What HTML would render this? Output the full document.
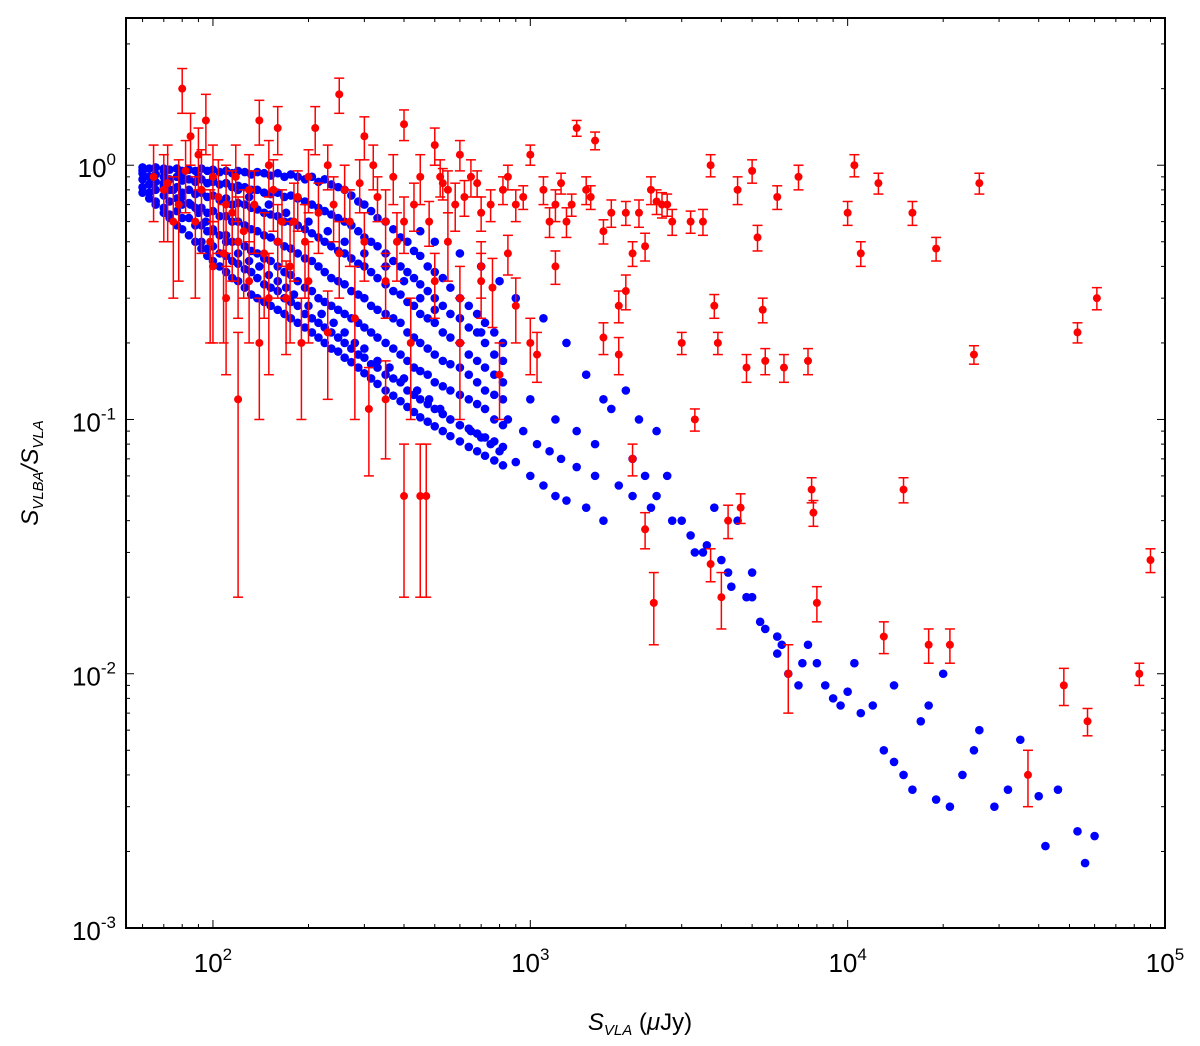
<!DOCTYPE html>
<html><head><meta charset="utf-8"><style>
body{margin:0;background:#fff;}
svg text{font-family:"Liberation Sans",sans-serif;}
</style></head><body>
<svg id="chart" width="1200" height="1041" xmlns="http://www.w3.org/2000/svg">
<g id="marks"></g>
<g id="axes"></g>
<text x="640" y="1030" text-anchor="middle" font-size="24" font-family="Liberation Serif"><tspan font-style="italic">S</tspan><tspan font-style="italic" font-size="15" dy="5">VLA</tspan><tspan dy="-5"> (</tspan><tspan font-style="italic">μ</tspan><tspan>Jy)</tspan></text>
<text transform="translate(38,473) rotate(-90)" text-anchor="middle" font-size="24" font-family="Liberation Serif" font-style="italic">S<tspan font-size="15" dy="5">VLBA</tspan><tspan dy="-5">/S</tspan><tspan font-size="15" dy="5">VLA</tspan></text>
</svg>
<script>
const blueX=[60,65,70,75,80,85,90,95,100,110,120,130,140,150,160,170,180,200,220,240,260,280,300,330,360,400,440,480,520,560,600,650,700,750,800,900,1000,1100,1200,1300,1500,1700,
70,80,90,100,110,120,130,150,170,200,230,260,300,350,400,450,500,600,700,
1000,1200,1400,1600,1800,2000,2100,2300,2500,2700,3000,3200,3500,4000,4200,4500,5000,5500,6000,6500,7000,7500,8000,9000,10000,10500,11000,12000,13000,14000,15000,16000,17000,18000,19000,21000,23000,25000,26000,29000,32000,35000,42000,46000,53000,56000,60000,40000,20000,14000,9500,6000,5000,3800,2500,2200,1700,1500,1300,1100,900,800,700,600,500,450,
850,950,1050,1150,1250,1400,1600,1900,2100,2400,2800,3300,3600,4300,4800,5300,6200,7200,8500];
const blueY=[0.95,0.9,0.85,0.8,0.75,0.7,0.65,0.6,0.55,0.5,0.45,0.42,0.4,0.37,0.35,0.33,0.31,0.28,0.26,0.24,0.22,0.2,0.19,0.17,0.16,0.145,0.13,0.12,0.11,0.1,0.095,0.09,0.085,0.08,0.075,0.068,0.06,0.055,0.05,0.048,0.045,0.04,
0.95,0.92,0.9,0.88,0.85,0.8,0.75,0.7,0.65,0.6,0.55,0.5,0.45,0.4,0.35,0.3,0.27,0.25,0.22,
0.12,0.1,0.09,0.08,0.11,0.13,0.07,0.06,0.05,0.06,0.04,0.035,0.03,0.028,0.025,0.04,0.02,0.015,0.012,0.01,0.009,0.013,0.011,0.008,0.0085,0.011,0.007,0.0075,0.005,0.0045,0.004,0.0035,0.0065,0.0075,0.0032,0.003,0.004,0.005,0.006,0.003,0.0035,0.0055,0.0021,0.0035,0.0024,0.0018,0.0023,0.0033,0.01,0.009,0.0075,0.014,0.025,0.045,0.09,0.1,0.12,0.15,0.2,0.25,0.3,0.35,0.4,0.45,0.5,0.55,
0.1,0.09,0.08,0.075,0.07,0.065,0.06,0.055,0.05,0.045,0.04,0.03,0.032,0.022,0.02,0.016,0.013,0.011,0.009];
// dense wedge: one x per column with several ratios
const blueColX=[60,63,66,70,73,77,80,84,88,92,96,100,105,110,115,120,126,132,138,145,152,160,168,176,185,195,205,215,225,236,248,260,273,287,300,315,330,350,370,390,410,430,450,475,500,530,560,600,640,680,720,770,820];
const blueColY=[[.98,.93,.88,.82,.78],[.97,.9,.84,.78,.74],[.98,.92,.86,.8,.72,.7],[.97,.9,.83,.76,.68,.65],[.96,.88,.8,.72,.64,.62],[.97,.9,.82,.74,.66,.58],[.95,.87,.78,.7,.62,.56],[.96,.88,.8,.71,.62,.53],[.95,.86,.77,.68,.58,.5],[.97,.88,.78,.68,.58,.5,.47],[.95,.85,.75,.65,.55,.47,.44],[.96,.86,.76,.66,.56,.48,.42],[.94,.84,.73,.63,.53,.45,.4],[.95,.85,.74,.63,.53,.44,.38],[.93,.82,.7,.6,.5,.42,.36],[.95,.83,.71,.6,.5,.41,.35],[.94,.82,.7,.58,.48,.39,.33],[.92,.8,.68,.56,.46,.38,.31],[.94,.8,.67,.55,.45,.36,.3],[.93,.78,.65,.53,.43,.34,.29],[.91,.77,.64,.52,.42,.33,.28],[.93,.78,.63,.5,.4,.32,.27],[.9,.75,.6,.48,.38,.3,.26],[.92,.76,.6,.47,.37,.29,.25],[.9,.74,.58,.45,.35,.28,.24],[.88,.72,.56,.43,.33,.26,.23],[.9,.7,.54,.42,.32,.25,.22],[.86,.68,.52,.4,.3,.24,.21],[.88,.66,.5,.38,.29,.23,.2],[.84,.64,.48,.36,.28,.22,.19],[.82,.62,.46,.35,.27,.21,.185],[.8,.6,.45,.34,.26,.2,.175],[.76,.58,.43,.32,.25,.19,.168],[.72,.55,.41,.31,.24,.18,.16],[.7,.52,.4,.3,.23,.175,.152],[.66,.5,.38,.28,.22,.165,.145],[.62,.48,.36,.27,.21,.16,.138],[.6,.45,.34,.26,.2,.15,.13],[.56,.42,.32,.25,.19,.145,.124],[.52,.4,.31,.24,.18,.14,.118],[.5,.38,.29,.22,.17,.13,.112],[.46,.36,.28,.21,.16,.125,.107],[.44,.34,.26,.2,.155,.12,.102],[.4,.32,.25,.19,.15,.115,.098],[.38,.3,.24,.18,.14,.11,.094],[.36,.28,.22,.17,.135,.105,.09],[.33,.26,.21,.165,.13,.1,.086],[.3,.25,.2,.16,.125,.095,.082],[.28,.23,.18,.15,.12,.092,.078],[.26,.22,.17,.14,.115,.088,.075],[.24,.2,.16,.13,.11,.085,.072],[.22,.18,.15,.125,.1,.082,.069],[.2,.17,.14,.12,.095,.078,.066]];
const redX=[80,85,90,95,100,110,120,130,140,150,160,180,190,200,210,230,250,260,280,300,310,320,350,370,400,420,450,470,500,520,550,580,600,650,700,760,800,850,900,1000,1050,1100,1200,1300,1400,1500,1600,1700,1800,1900,2000,2100,2200,2300,2400,2450,2500,2600,2800,3000,3300,3500,3700,3800,3900,4000,4500,4800,5000,5200,5400,5500,6000,6300,6500,7000,7500,7700,7800,8000,10000,10500,11000,12500,13000,15000,16000,18000,19000,21000,25000,26000,37000,48000,53000,57000,61000,83000,90000,3700,4200,4600,2300,1000,900,
70,75,100,110,130,150,160,200,250,300,350,400,450,550,120,140,170,230,350,400,600,700,
65,72,78,82,88,92,98,104,108,115,118,125,135,145,155,165,175,185,195,215,240,270,290,330,380,430,480,530,620,680,750,820,950,1150,1250,1350,1550,1700,2000,2700,3200,2100,1900,1200,850,700,600,500];
const redY=[2.0,1.3,1.1,1.5,0.9,0.7,0.5,0.8,1.5,1.0,1.4,0.6,0.2,0.9,1.4,1.0,1.9,0.8,0.25,1.3,0.11,1.0,0.6,0.9,1.45,0.2,0.05,0.05,1.2,0.9,0.8,0.7,1.1,0.9,0.65,0.33,0.15,0.9,0.7,1.1,0.18,0.8,0.7,0.6,1.4,0.8,1.25,0.21,0.65,0.18,0.32,0.07,0.65,0.48,0.8,0.019,0.72,0.7,0.6,0.2,0.1,0.6,1.0,0.28,0.2,0.02,0.8,0.16,0.95,0.52,0.27,0.17,0.75,0.16,0.01,0.9,0.17,0.053,0.043,0.019,0.65,1.0,0.45,0.85,0.014,0.053,0.65,0.013,0.47,0.013,0.18,0.85,0.004,0.009,0.22,0.0065,0.3,0.01,0.028,0.027,0.04,0.045,0.037,0.2,0.28,
0.8,0.6,0.4,0.3,0.35,0.3,0.5,0.35,0.45,0.5,0.35,0.6,0.9,0.5,0.12,0.2,0.3,0.22,0.12,0.05,0.3,0.4,
.9,.85,.7,.95,.6,.8,.5,.75,.45,.65,.9,.55,.7,.45,.8,.6,.4,.75,.5,.65,.7,.6,.85,.75,.5,.7,.6,.85,.75,.85,.7,.8,.75,.6,.85,.7,.75,.55,.65,.7,.6,.45,.28,.4,.45,.35,.2,.35];
const redErr=[0.4,0.3,0.3,0.4,0.3,0.3,0.25,0.3,0.3,0.25,0.3,0.25,0.1,0.25,0.3,0.2,0.3,0.2,0.15,0.25,0.05,0.2,0.2,0.2,0.2,0.1,0.03,0.03,0.2,0.15,0.15,0.15,0.15,0.15,0.1,0.1,0.05,0.1,0.1,0.1,0.04,0.1,0.1,0.08,0.1,0.1,0.1,0.03,0.08,0.03,0.05,0.01,0.08,0.06,0.1,0.006,0.08,0.08,0.07,0.02,0.01,0.07,0.1,0.03,0.02,0.005,0.1,0.02,0.1,0.06,0.03,0.02,0.08,0.02,0.003,0.1,0.02,0.006,0.005,0.003,0.07,0.1,0.05,0.08,0.002,0.006,0.07,0.002,0.05,0.002,0.015,0.08,0.001,0.0015,0.02,0.0008,0.03,0.001,0.003,0.004,0.006,0.006,0.006,0.05,0.08,
0.3,0.3,0.2,0.15,0.15,0.15,0.2,0.15,0.15,0.15,0.1,0.15,0.2,0.15,0.1,0.1,0.12,0.1,0.05,0.03,0.1,0.1,
.3,.35,.35,.3,.3,.35,.3,.3,.25,.3,.3,.25,.25,.2,.25,.2,.2,.2,.2,.2,.2,.2,.2,.15,.15,.15,.12,.12,.12,.1,.1,.1,.08,.08,.08,.07,.08,.06,.07,.07,.06,.05,.04,.06,.08,.1,.1,.1];
const xTicks=[2,3,4,5], xTickLabels=["2","3","4","5"];
const yTicks=[-3,-2,-1,0], yTickLabels=["-3","-2","-1","0"];

const L=126,R=1165,T=18,B=928;
const xlo=1.726,xhi=5, ylo=-3,yhi=0.579;
const sx=v=>L+(Math.log10(v)-xlo)/(xhi-xlo)*(R-L);
const sy=v=>B-(Math.log10(v)-ylo)/(yhi-ylo)*(B-T);
const NS="http://www.w3.org/2000/svg";
const marks=document.getElementById('marks'), axes=document.getElementById('axes');
function mk(tag,p,attrs){const e=document.createElementNS(NS,tag);for(const k in attrs)e.setAttribute(k,attrs[k]);p.appendChild(e);return e;}
const clip=mk('clipPath',document.getElementById('chart'),{id:'cp'});
mk('rect',clip,{x:L,y:T,width:R-L,height:B-T});
marks.setAttribute('clip-path','url(#cp)');
function bluePt(x,y){
  const c=mk('circle',marks,{cx:sx(x),cy:sy(y),r:4.3,fill:'#0000ff'});
  
  
}
blueX.forEach((x,i)=>bluePt(x,blueY[i]));
blueColX.forEach((x,i)=>blueColY[i].forEach(y=>bluePt(x,y)));
redX.forEach((x,i)=>{
  const y=redY[i],e=redErr[i];
  const g=mk('g',marks,{stroke:'#ff0000','stroke-width':1.5});
  
  
  const X=sx(x),y1=sy(y+e),y0=sy(Math.max(y-e,0.0011));
  mk('line',g,{x1:X,x2:X,y1:y1,y2:y0});
  mk('line',g,{x1:X-5,x2:X+5,y1:y1,y2:y1});
  mk('line',g,{x1:X-5,x2:X+5,y1:y0,y2:y0});
  mk('circle',g,{cx:X,cy:sy(y),r:4,fill:'#ff0000',stroke:'none'});
});
const frame=mk('rect',axes,{x:L,y:T,width:R-L,height:B-T,fill:'none',stroke:'#000','stroke-width':2});


for(let d=1;d<=5;d++)for(let m=1;m<10;m++){
  const lv=d+Math.log10(m); if(lv<xlo||lv>xhi)continue;
  const X=L+(lv-xlo)/(xhi-xlo)*(R-L), len=m==1?8:4;
  mk('line',axes,{x1:X,x2:X,y1:B,y2:B-len,stroke:'#000','stroke-width':1});
  mk('line',axes,{x1:X,x2:X,y1:T,y2:T+len,stroke:'#000','stroke-width':1});
}
for(let d=-3;d<=0;d++)for(let m=1;m<10;m++){
  const lv=d+Math.log10(m); if(lv>yhi)continue;
  const Y=B-(lv-ylo)/(yhi-ylo)*(B-T), len=m==1?8:4;
  mk('line',axes,{x1:L,x2:L+len,y1:Y,y2:Y,stroke:'#000','stroke-width':1});
  mk('line',axes,{x1:R,x2:R-len,y1:Y,y2:Y,stroke:'#000','stroke-width':1});
}
xTicks.forEach((t,i)=>{
  const t1=mk('text',axes,{x:L+(t-xlo)/(xhi-xlo)*(R-L),y:B+44,'text-anchor':'middle','font-size':26});
  
  
  t1.innerHTML='10<tspan font-size="17" dy="-12">'+xTickLabels[i]+'</tspan>';
});
yTicks.forEach((t,i)=>{
  const t1=mk('text',axes,{x:L-10,y:B-(t-ylo)/(yhi-ylo)*(B-T)+12,'text-anchor':'end','font-size':26});
  
  
  t1.innerHTML='10<tspan font-size="17" dy="-12">'+yTickLabels[i]+'</tspan>';
});
</script>
</body></html>
